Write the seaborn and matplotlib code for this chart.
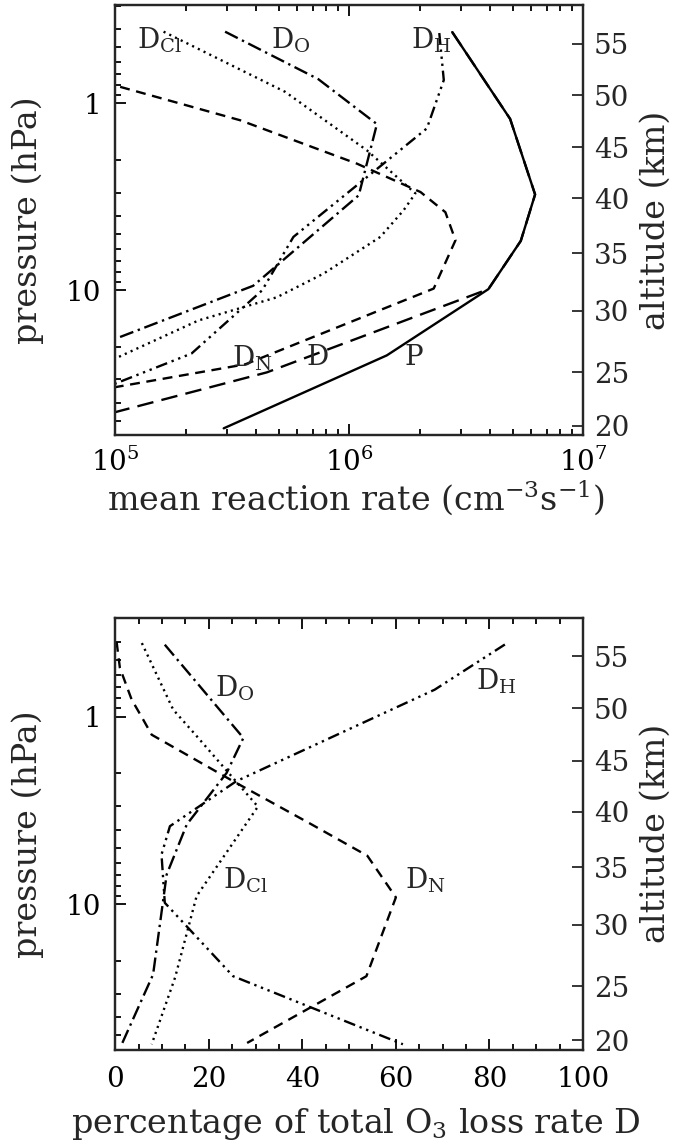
import numpy as np
import pandas as pd
import matplotlib
matplotlib.use("Agg")
import matplotlib.pyplot as plt
import seaborn as sns
from matplotlib.ticker import (LogLocator, FixedLocator, FixedFormatter,
                               NullFormatter, NullLocator, MultipleLocator)

# ---------------- data: upper panel (mean reaction rate, cm^-3 s^-1) ----------------
p_hpa_P = [0.415, 1.21, 3.07, 5.44, 9.86, 22.3, 54.8]
rate_P = [2.76e6, 4.88e6, 6.24e6, 5.42e6, 3.94e6, 1.45e6, 2.91e5]

p_hpa_D = [0.415, 1.21, 3.07, 5.44, 9.86, 27.5, 44.9]
rate_D = [2.76e6, 4.88e6, 6.24e6, 5.42e6, 3.94e6, 4.45e5, 1.0e5]

p_hpa_DN = [0.815, 1.23, 2.10, 2.98, 3.82, 5.40, 9.79, 24.9, 33.0]
rate_DN = [1.05e5, 3.42e5, 1.08e6, 2.02e6, 2.58e6, 2.85e6, 2.30e6, 3.60e5, 1.0e5]

p_hpa_DO = [0.413, 0.741, 1.29, 3.10, 9.46, 18.2]
rate_DO = [2.95e5, 7.38e5, 1.315e6, 1.10e6, 3.89e5, 1.0e5]

p_hpa_DH = [0.42, 0.75, 1.36, 5.18, 10.0, 21.8, 31.6]
rate_DH = [2.43e6, 2.54e6, 2.15e6, 5.78e5, 4.25e5, 2.12e5, 1.0e5]

p_hpa_DCl = [0.413, 0.867, 1.78, 3.03, 3.73, 5.18, 8.14, 10.9, 14.5, 22.8]
rate_DCl = [1.61e5, 5.33e5, 1.19e6, 1.92e6, 1.71e6, 1.36e6, 7.78e5, 4.91e5, 2.27e5, 1.03e5]

# ---------------- data: lower panel (percentage of total O3 loss rate D) ----------------
pp_hpa_DO = [0.414, 1.30, 2.0, 3.76, 6.95, 23.7, 55.8]
pct_DO = [10.6, 27.4, 23.8, 15.3, 11.0, 8.1, 1.4]

pp_hpa_DH = [0.413, 0.719, 2.21, 3.84, 5.44, 9.83, 24.2, 55.8]
pct_DH = [83.3, 68.3, 25.9, 11.7, 9.9, 10.6, 25.2, 61.5]

pp_hpa_DN = [0.40, 0.55, 0.81, 1.04, 1.25, 2.21, 3.70, 5.52, 9.2, 24.2, 54.9]
pct_DN = [0.3, 1.0, 3.5, 6.0, 7.8, 25.2, 41.5, 53.9, 60.0, 53.7, 28.2]

pp_hpa_DCl = [0.406, 0.919, 1.27, 3.02, 9.06, 24.6, 55.8]
pct_DCl = [5.7, 12.4, 17.4, 30.5, 17.4, 12.8, 7.8]

# altitude scale (right axes): altitude labels and the pressure they sit at
alt_km = [20, 25, 30, 35, 40, 45, 50, 55]
alt_hpa = [53.2, 27.4, 12.9, 6.35, 3.21, 1.718, 0.902, 0.478]

p_major = [1, 10]
p_major_labels = ["1", "10"]

# ---------------- style ----------------
sns.set_style("ticks")
plt.rcParams["font.family"] = ["DejaVu Serif"]
plt.rcParams["mathtext.fontset"] = "dejavuserif"

FS_TICK = 20
FS_LABEL = 24
FS_CURVE = 20
LW = 1.7
styles = {
    "P": "-",
    "D": (0, (7, 3.5)),
    "DN": (0, (4.2, 2.8)),
    "DO": (0, (6, 2, 1, 2)),
    "DH": (0, (5, 2, 1, 2, 1, 2, 1, 2)),
    "DCl": (0, (0.9, 1.8)),
}

fig = plt.figure(figsize=(6.74, 11.40), dpi=100)
W, H = 674.0, 1140.0
axL, axR = 115.2, 583.0
ax1 = fig.add_axes([axL / W, 1 - 435 / H, (axR - axL) / W, (435 - 5.2) / H])
ax2 = fig.add_axes([axL / W, 1 - 1049.5 / H, (axR - axL) / W, (1049.5 - 617.9) / H])

def draw(ax, x, y, key):
    sns.lineplot(x=x, y=y, ax=ax, sort=False, estimator=None, color="black",
                 linewidth=LW, linestyle=styles[key], legend=False)

draw(ax1, rate_P, p_hpa_P, "P")
draw(ax1, rate_D, p_hpa_D, "D")
draw(ax1, rate_DN, p_hpa_DN, "DN")
draw(ax1, rate_DO, p_hpa_DO, "DO")
draw(ax1, rate_DH, p_hpa_DH, "DH")
draw(ax1, rate_DCl, p_hpa_DCl, "DCl")

draw(ax2, pct_DO, pp_hpa_DO, "DO")
draw(ax2, pct_DH, pp_hpa_DH, "DH")
draw(ax2, pct_DN, pp_hpa_DN, "DN")
draw(ax2, pct_DCl, pp_hpa_DCl, "DCl")

YLIM = (59.5, 0.298)

def style_pressure_axis(ax):
    ax.set_yscale("log")
    ax.set_ylim(*YLIM)
    ax.yaxis.set_major_locator(FixedLocator(p_major))
    ax.yaxis.set_major_formatter(FixedFormatter(p_major_labels))
    ax.yaxis.set_minor_locator(LogLocator(base=10, subs=np.arange(2, 10)))
    ax.yaxis.set_minor_formatter(NullFormatter())
    ax.set_ylabel("pressure (hPa)", fontsize=FS_LABEL)
    ax.yaxis.set_label_coords(-0.152, 0.5)
    for s in ax.spines.values():
        s.set_linewidth(1.6)
    ax.tick_params(which="both", direction="in", top=True, right=False,
                   labelsize=FS_TICK, width=1.3, colors="black")
    ax.tick_params(which="major", length=8)
    ax.tick_params(which="minor", length=4.5)
    ax.tick_params(axis="y", pad=10)

    tw = ax.twinx()
    tw.set_yscale("log")
    tw.set_ylim(*YLIM)
    tw.yaxis.set_major_locator(FixedLocator(alt_hpa))
    tw.yaxis.set_major_formatter(FixedFormatter([str(a) for a in alt_km]))
    tw.yaxis.set_minor_locator(NullLocator())
    tw.tick_params(axis="y", which="both", direction="in", length=8, width=1.3,
                   labelsize=FS_TICK, pad=8)
    tw.set_ylabel("altitude (km)", fontsize=FS_LABEL)
    tw.yaxis.set_label_coords(1.121, 0.5)
    for s in tw.spines.values():
        s.set_linewidth(1.6)
    return tw

# upper panel x
ax1.set_xscale("log")
ax1.set_xlim(1e5, 1e7)
ax1.xaxis.set_major_locator(LogLocator(base=10))
ax1.xaxis.set_minor_locator(LogLocator(base=10, subs=np.arange(2, 10)))
ax1.xaxis.set_minor_formatter(NullFormatter())
ax1.set_xlabel(r"mean reaction rate (cm$^{-3}$s$^{-1}$)", fontsize=FS_LABEL)
ax1.xaxis.set_label_coords(0.515, -0.1)
style_pressure_axis(ax1)
ax1.tick_params(axis="x", pad=9)

# lower panel x
ax2.set_xlim(0, 100)
ax2.xaxis.set_major_locator(MultipleLocator(20))
ax2.xaxis.set_minor_locator(MultipleLocator(5))
ax2.set_xlabel(r"percentage of total O$_3$ loss rate D", fontsize=FS_LABEL)
ax2.xaxis.set_label_coords(0.515, -0.13)
style_pressure_axis(ax2)
ax2.tick_params(axis="x", pad=12)

# curve labels
def lab(ax, x, y, s):
    ax.text(x, y, s, transform=ax.transAxes, fontsize=FS_CURVE, ha="left", va="baseline")

lab(ax1, 0.046, 0.90, r"D$_{\mathrm{Cl}}$")
lab(ax1, 0.334, 0.90, r"D$_{\mathrm{O}}$")
lab(ax1, 0.633, 0.90, r"D$_{\mathrm{H}}$")
lab(ax1, 0.249, 0.159, r"D$_{\mathrm{N}}$")
lab(ax1, 0.409, 0.163, "D")
lab(ax1, 0.619, 0.163, "P")

lab(ax2, 0.213, 0.817, r"D$_{\mathrm{O}}$")
lab(ax2, 0.772, 0.833, r"D$_{\mathrm{H}}$")
lab(ax2, 0.231, 0.374, r"D$_{\mathrm{Cl}}$")
lab(ax2, 0.619, 0.374, r"D$_{\mathrm{N}}$")

fig.savefig("out.png", dpi=100)
